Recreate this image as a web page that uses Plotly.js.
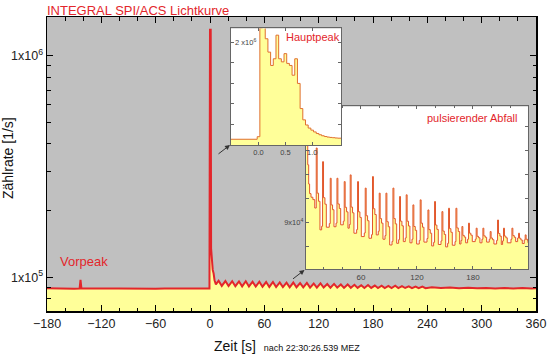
<!DOCTYPE html>
<html>
<head>
<meta charset="utf-8">
<script src="https://cdn.plot.ly/plotly-3.0.1.min.js"></script>
<style>html,body{margin:0;padding:0;background:#fff;}#chart{width:549px;height:355px;}</style>
</head>
<body>
<div id="chart"></div>
<script>
// ---- Main light curve (1 s bins), time [s] after 22:30:26.539 MEZ, rate [1/s]
const mainTime = [-180,-170,-160,-150,-144,-143,-142,-130,-120,-110,-100,-90,-80,-70,-60,-50,-40,-30,-20,-10,-0.6,
  0,0.8,1.2,2,3,4,5,6.5,
  9.5,13,17,20.5,24.5,28,32,35.5,39.5,43,47,50.5,54.5,58,62,65.5,69.5,73,77,80.5,84.5,88,92,95.5,99.5,103,
  107,110.5,114.5,118,122,125.5,129.5,133,137,140.5,144.5,148,152,155.5,159.5,163,167,170.5,174.5,178,
  182,185.5,189.5,193,197,200.5,204.5,208,212,215.5,219.5,223,227,230.5,234.5,238,
  245,255,265,275,285,295,305,315,325,335,345,355,360];
const mainRate = [89200,88900,89100,88900,89000,97500,89200,89100,88800,89000,88900,88700,89000,88800,88900,89100,88800,89000,89100,88900,89000,
  1310000,1310000,135000,118000,108000,104000,97000,93000,
  96500,91500,96200,91300,96000,91200,95800,91000,96000,91000,95600,90800,95500,90700,95200,90500,95300,90400,94800,90300,94600,90100,94700,90200,94200,90000,
  94300,89900,93800,89800,93900,89900,93300,89700,93400,89800,92800,89600,92900,89700,92500,89600,92100,89500,92300,89600,
  91800,89500,91700,89400,91500,89500,91600,89400,91200,89500,91000,89300,90900,89400,90800,89300,
  90200,89500,90000,89300,89800,89200,89600,89100,89500,89000,89400,89000,89200];

// ---- Inset "Hauptpeak" (50 ms bins)
const hpTime = [-0.52,-0.025,0.025,0.075,0.125,0.175,0.225,0.275,0.325,0.375,0.425,0.475,0.525,0.575,0.625,0.675,0.725,0.775,0.825,0.875,0.925,0.975,1.025,1.075,1.125,1.175,1.225,1.275,1.325,1.375,1.425,1.475,1.54];
const hpRate = [112000,162000,2280000,2400000,2070000,1810000,1550000,1680000,2140000,1680000,1620000,1780000,1590000,1550000,1360000,1680000,1200000,710000,490000,390000,330000,290000,255000,225000,200000,180000,165000,155000,148000,142000,137000,133000,130000];

// ---- Inset "pulsierender Abfall"
const pzTime = [1,2,3,4,5,6.5,8.5,10.5,
  12.1,13.1,14.6,16.1,17.9,18.9,19.9,21.4,22.9,26.1,27.1,28.1,29.6,31.1,33.3,34.3,35.3,36.8,38.3,
  41.1,42.1,43.1,44.6,46.1,47.5,48.5,49.5,51.0,52.5,55.4,56.4,57.4,58.9,60.4,63.6,64.6,65.6,67.1,68.6,
  71.4,72.4,73.4,74.9,76.4,78.6,79.6,80.6,82.1,83.6,85.8,86.8,87.8,89.3,90.8,93.3,94.3,95.3,96.8,98.3,
  100.4,101.4,102.4,103.9,105.4,107.5,108.5,109.5,111.0,112.5,114.7,115.7,116.7,118.2,119.7,
  122.5,123.5,124.5,126.0,127.5,130.8,131.8,132.8,134.3,135.8,137.9,138.9,139.9,141.4,142.9,
  145.8,146.8,147.8,149.3,150.8,152.9,153.9,154.9,156.4,157.9,160.8,161.8,162.8,164.3,165.8,
  167.2,168.2,169.2,170.7,172.2,174.3,175.3,176.3,177.8,179.3,182.5,183.5,184.5,186.0,187.5,
  189.7,190.7,191.7,193.2,194.7,197.5,198.5,199.5,201.0,202.5,205.4,206.4,207.4,208.9,210.4,
  211.8,212.8,213.8,215.3,216.8,220.8,221.8,222.8,224.3,225.8,227.9,228.9,229.9,231.4,232.9,
  235.0,236.0,237.0,238.5,239];
const pzRate = [150000,128000,114000,106000,102000,100500,99500,96000,
  121000,102200,98800,86900,88400,115300,100300,97600,88000,89500,108400,97300,95300,88200,89700,108400,97700,95800,89000,
  90500,107000,96300,94400,87600,89100,109800,96400,94000,85500,87000,107000,94400,92100,84100,85600,104300,92800,90700,83400,
  84900,109100,95700,93300,84800,86300,102200,91600,89700,83000,84500,102200,90300,88200,80600,82100,104300,91600,89400,81300,
  82800,100800,90500,88600,82000,83500,101500,90500,88500,81500,83000,97300,88300,86700,81000,
  82500,99400,89700,88000,81800,83300,95200,87000,85500,80200,81700,98700,88900,87100,80800,
  82300,94500,86400,85000,79800,81300,95900,87400,85900,80500,82000,95900,87700,86200,81000,
  82500,88300,84600,83900,81500,83000,89700,85500,84700,82000,83000,87600,84200,83600,81500,
  83000,87600,84400,83800,81800,83000,86200,83500,82800,81000,82500,91000,85400,84300,80800,
  82300,87600,84300,83600,81500,83000,87600,84500,83800,82000,83500,85500,83400,82700,81200,
  82700,84800,83000,82400,81500];

// tick labels
const mainYTicks = [1e5, 1e6];
const mainYText = ['1x10<sup>5</sup>', '1x10<sup>6</sup>'];
const hpYTicks = [4e5, 8e5, 1.2e6, 1.6e6, 2e6];
const hpYText = ['', '', '', '', '2 x10<sup>6</sup>'];
const hpXTicks = [0, 0.5, 1.0];
const hpXText = ['0.0', '0.5', '1.0'];
const pzYTicks = [8e4, 9e4, 1e5, 1.1e5, 1.2e5, 1.3e5];
const pzYText = ['', '9x10<sup>4</sup>', '', '', '', ''];

const RED = '#e3262b';
const YEL = '#ffff99';
const FONT = 'Arial, "Liberation Sans", sans-serif';

const traces = [
  {x: mainTime, y: mainRate, xaxis:'x', yaxis:'y', type:'scatter', mode:'lines',
   line:{color:RED, width:2}, fill:'tozeroy', fillcolor:YEL, hoverinfo:'skip'},
  {x: pzTime, y: pzRate, xaxis:'x2', yaxis:'y2', type:'scatter', mode:'lines',
   line:{color:'#e2572c', width:1, shape:'hv'}, fill:'tozeroy', fillcolor:YEL, hoverinfo:'skip'},
  {x: hpTime, y: hpRate, xaxis:'x3', yaxis:'y3', type:'scatter', mode:'lines',
   line:{color:'#e0702e', width:1, shape:'hv'}, fill:'tozeroy', fillcolor:YEL, hoverinfo:'skip'}
];

const insetAxis = {showline:true, linecolor:'#666', linewidth:1, mirror:'allticks', ticks:'inside',
  ticklen:3, tickcolor:'#666', showgrid:false, zeroline:false, tickfont:{size:8, color:'#444', family:FONT}};

const layout = {
  width:549, height:355,
  margin:{l:47, r:13, t:17, b:44, pad:0},
  paper_bgcolor:'#ffffff', plot_bgcolor:'#ffffff',
  showlegend:false,
  font:{family:FONT, color:'#222'},
  title:{text:'INTEGRAL SPI/ACS Lichtkurve', font:{size:13, color:RED, family:FONT},
         x:47/549, xanchor:'left', y:1-10/355, yanchor:'middle'},
  xaxis:{domain:[0,1], anchor:'y', range:[-180,360], tick0:0, dtick:60, ticks:'inside', ticklen:6,
         tickcolor:'#000', showline:true, linecolor:'#000', linewidth:1.5, mirror:'allticks',
         showgrid:false, zeroline:false, tickfont:{size:12.5, color:'#222'},
         minor:{dtick:20, ticks:'inside', ticklen:3.5, tickcolor:'#000', showgrid:false}},
  yaxis:{domain:[0,1], anchor:'x', type:'log', range:[4.848, 6.175], tickmode:'array',
         tickvals:mainYTicks, ticktext:mainYText, ticks:'inside', ticklen:6, tickcolor:'#000',
         showline:true, linecolor:'#000', linewidth:1.5, mirror:'allticks', showgrid:false, zeroline:false,
         tickfont:{size:12.5, color:'#222'},
         minor:{dtick:'D1', ticks:'inside', ticklen:3.5, tickcolor:'#000', showgrid:false}},
  xaxis2:Object.assign({}, insetAxis, {domain:[0.5294,0.9836], anchor:'y2', range:[1,239], tick0:0, dtick:60,
         minor:{dtick:20, ticks:'inside', ticklen:2, tickcolor:'#666', showgrid:false}}),
  yaxis2:Object.assign({}, insetAxis, {domain:[0.1429,0.6956], anchor:'x2', range:[70600,138300],
         tickmode:'array', tickvals:pzYTicks, ticktext:pzYText, tickfont:{size:7.5, color:'#444', family:FONT}}),
  xaxis3:Object.assign({}, insetAxis, {domain:[0.3755,0.6016], anchor:'y3', range:[-0.52,1.54],
         tickmode:'array', tickvals:hpXTicks, ticktext:hpXText, tickfont:{size:7.5, color:'#444', family:FONT}}),
  yaxis3:Object.assign({}, insetAxis, {domain:[0.5646,0.9609], anchor:'x3', range:[0,2.27e6],
         tickmode:'array', tickvals:hpYTicks, ticktext:hpYText, ticklabelposition:'inside',
         tickfont:{size:7.5, color:'#444', family:FONT}}),
  shapes:[
    {type:'rect', xref:'paper', yref:'paper', x0:0, x1:1, y0:0, y1:1, layer:'below',
     fillcolor:'#c0c0c0', line:{width:0}}
  ],
  annotations:[
    {text:'Vorpeak', xref:'paper', yref:'paper', x:(84-47)/489, y:(311-261.7)/294, showarrow:false,
     font:{size:13, color:RED}, xanchor:'center', yanchor:'middle'},
    {text:'Hauptpeak', xref:'paper', yref:'paper', x:(313-47)/489, y:(311-37.3)/294, showarrow:false,
     font:{size:11, color:RED}, xanchor:'center', yanchor:'middle'},
    {text:'pulsierender Abfall', xref:'paper', yref:'paper', x:(472.5-47)/489, y:(311-118.3)/294, showarrow:false,
     font:{size:11, color:RED}, xanchor:'center', yanchor:'middle'},
    {text:'Zählrate [1/s]', xref:'paper', yref:'paper', x:(8-47)/489, y:(311-158)/294, showarrow:false,
     textangle:-90, font:{size:14, color:'#111'}, xanchor:'center', yanchor:'middle'},
    {text:'Zeit [s]\u00a0\u00a0<span style="font-size:9px">nach 22:30:26.539 MEZ</span>', xref:'paper', yref:'paper',
     x:(287.3-47)/489, y:(311-345.5)/294, showarrow:false, font:{size:14, color:'#111'},
     xanchor:'center', yanchor:'middle'},
    {text:'', xref:'paper', yref:'paper', x:(230-47)/489, y:(311-145)/294, ax:-13, ay:10,
     showarrow:true, arrowhead:2, arrowsize:1, arrowwidth:1, arrowcolor:'#333', standoff:0},
    {text:'', xref:'paper', yref:'paper', x:(304.5-47)/489, y:(311-270)/294, ax:-13, ay:10,
     showarrow:true, arrowhead:2, arrowsize:1, arrowwidth:1, arrowcolor:'#333', standoff:0}
  ]
};

Plotly.newPlot('chart', traces, layout, {staticPlot:true, displayModeBar:false});
</script>
</body>
</html>
